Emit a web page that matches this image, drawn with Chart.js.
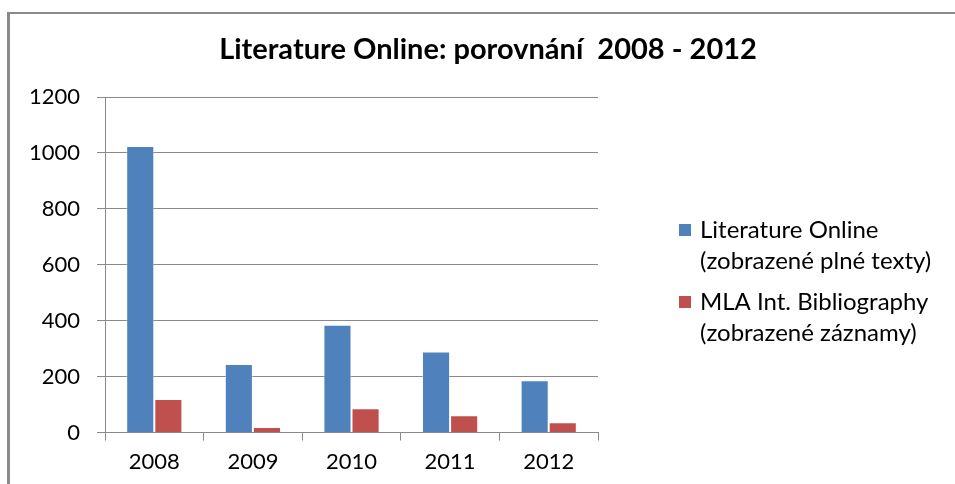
<!DOCTYPE html>
<html>
<head>
<meta charset="utf-8">
<script src="https://cdn.jsdelivr.net/npm/chart.js@4"></script>
<style>
  html, body { margin: 0; padding: 0; background: #fff; overflow: hidden; width: 955px; height: 484px; }
  #frame {
    position: absolute; left: 7px; top: 12px; width: 1400px; height: 700px;
    border-left: 3px solid #8a8a8a; border-top: 2px solid #8a8a8a;
  }
  #wrap { position: absolute; left: 0; top: 0; width: 975px; height: 484px; }
</style>
</head>
<body>
<div id="frame"></div>
<div id="wrap"><canvas id="chart"></canvas></div>
<script>
const years = ['2008', '2009', '2010', '2011', '2012'];
const fullTexts = [1025, 245, 386, 290, 187];
const records = [120, 20, 87, 62, 37];
const seriesNames = [
    ['Literature Online', '(zobrazené plné texty)'],
    ['MLA Int. Bibliography', '(zobrazené záznamy)']
];
const chartTitle = 'Literature Online: porovnání  2008 - 2012';
const list_colors = ['#4F81BD', '#C0504D'];
const FONT = 'Lato, "Open Sans", sans-serif';

// title and two-line legend drawn by hand
const sideLegend = {
    id: 'sideLegend',
    afterDraw(chart) {
        const ctx = chart.ctx;
        ctx.save();
        ctx.fillStyle = '#000';
        ctx.textBaseline = 'middle';
        ctx.textAlign = 'center';
        ctx.font = 'bold 29px ' + FONT;
        ctx.fillText(chartTitle, 488, 50);

        ctx.textAlign = 'left';
        ctx.font = '24px ' + FONT;
        const tops = [230, 302];
        chart.data.datasets.forEach((ds, i) => {
            const y = tops[i];
            ctx.fillStyle = ds.backgroundColor;
            ctx.fillRect(679, y - 6, 12, 12);
            ctx.fillStyle = '#000';
            ds.label.forEach((line, j) => {
                ctx.fillText(line, 700, y + j * 31);
            });
        });
        ctx.restore();
    }
};

const ctx = document.getElementById('chart').getContext('2d');
new Chart(ctx, {
    type: 'bar',
    data: {
        labels: years,
        datasets: [
            { label: seriesNames[0], data: fullTexts, backgroundColor: list_colors[0],
              borderColor: 'rgba(255,255,255,0.45)', borderWidth: 1 },
            { label: seriesNames[1], data: records, backgroundColor: list_colors[1],
              borderColor: 'rgba(255,255,255,0.45)', borderWidth: 1 }
        ]
    },
    options: {
        responsive: true,
        maintainAspectRatio: false,
        animation: false,
        layout: { padding: { left: 0, right: 377, top: 97, bottom: 1 } },
        datasets: { bar: { categoryPercentage: 0.57, barPercentage: 1.0 } },
        plugins: {
            legend: { display: false },
            tooltip: { enabled: false },
            title: { display: false }
        },
        scales: {
            x: {
                grid: { offset: true, drawOnChartArea: false, drawTicks: true, tickLength: 8, color: '#8a8a8a' },
                border: { color: '#8a8a8a' },
                ticks: { color: '#000', font: { family: FONT, size: 22 }, padding: 8 }
            },
            y: {
                min: 0, max: 1200,
                afterFit: (scale) => { scale.width = 105; },
                grid: { color: '#8a8a8a', tickLength: 8 },
                border: { color: '#8a8a8a' },
                ticks: { stepSize: 200, color: '#000', font: { family: FONT, size: 22 }, padding: 17,
                         callback: (v) => String(v) }
            }
        }
    },
    plugins: [sideLegend]
});
</script>
</body>
</html>
